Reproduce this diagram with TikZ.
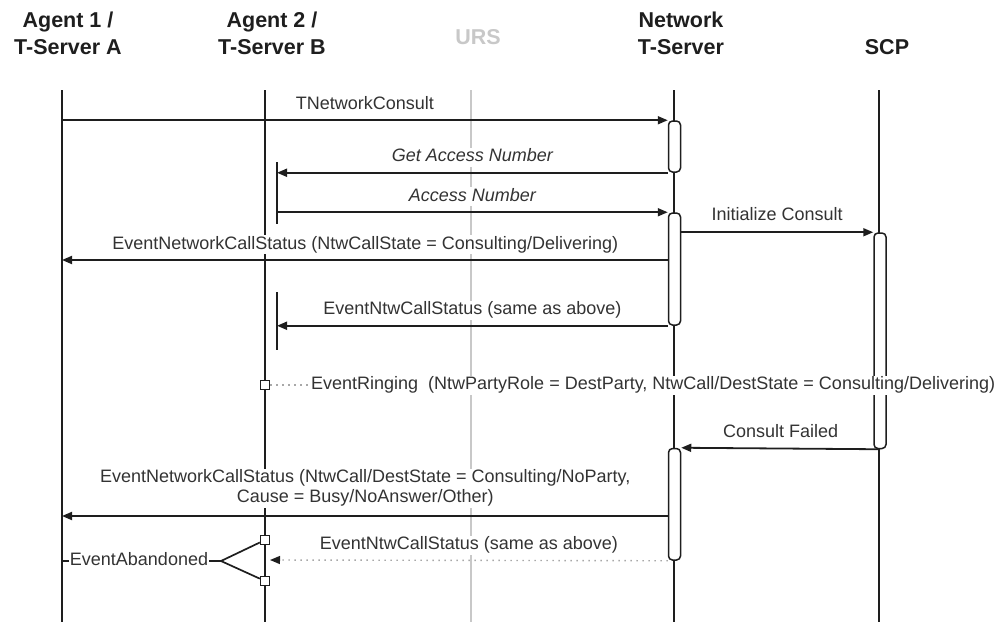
\documentclass[tikz,border=0pt]{standalone}
\usepackage{fontspec}
\setmainfont{Liberation Sans}
\usetikzlibrary{arrows.meta}
\definecolor{ink}{HTML}{1E1E1E}
\definecolor{txt}{HTML}{333333}
\definecolor{ursgray}{HTML}{C8C8C8}
\definecolor{dotgray}{HTML}{A8A8A8}
\begin{document}
\begin{tikzpicture}[x=1pt,y=-1pt,
  life/.style={draw=ink, line width=2.5pt},
  urs/.style={draw=ursgray, line width=1.6pt},
  barline/.style={draw=ink, line width=2.6pt},
  tipstyle/.style={-{Triangle[length=10pt,width=8pt,color=ink]}},
  msg/.style={draw=ink, line width=1.8pt, tipstyle},
  dotmsg/.style={draw=dotgray, line width=1.4pt, dash pattern=on 1.5pt off 4.5pt, tipstyle},
  plain/.style={draw=ink, line width=1.7pt},
  dotline/.style={draw=dotgray, line width=1.4pt, dash pattern=on 1.5pt off 4.5pt},
  act/.style={draw=ink, fill=white, line width=1.5pt, rounded corners=4pt, minimum width=12pt, inner sep=0pt},
  lbl/.style={fill=white, text=txt, font=\fontsize{18}{20}\selectfont, inner sep=1pt, text height=13pt, text depth=4pt},
  lbli/.style={lbl, font=\fontsize{18}{20}\selectfont\itshape},
  lbltwo/.style={fill=white, text=txt, font=\fontsize{18}{20}\selectfont, inner sep=1pt, align=center},
  hdr/.style={text=ink, font=\bfseries\fontsize{21.5}{27}\selectfont, align=center},
  sq/.style={draw=ink, fill=white, line width=1.3pt, minimum size=9pt, inner sep=0pt},
]
\useasboundingbox (0,0) rectangle (1005,622);

% headers
\node[hdr] (h1) at (68,33.5) {Agent 1 /\\T-Server A};
\node[hdr] (h2) at (272,33.5) {Agent 2 /\\T-Server B};
\node[hdr, text=ursgray] (h3) at (478,37) {URS};
\node[hdr] (h4) at (681,33.5) {Network\\T-Server};
\node[hdr] (h5) at (887,47) {SCP};

% lifelines
\coordinate (a1t) at (62,90);  \coordinate (a1b) at (62,622);
\coordinate (a2t) at (265,90); \coordinate (a2b) at (265,622);
\coordinate (urt) at (471,90); \coordinate (urb) at (471,622);
\coordinate (nt) at (674,90);  \coordinate (nb) at (674,622);
\coordinate (st) at (879,90);  \coordinate (sb) at (879,622);
\draw[life] (a1t) -- (a1b);
\draw[life] (a2t) -- (a2b);
\draw[urs] (urt) -- (urb);
\draw[life] (nt) -- (nb);
\draw[life] (st) -- (sb);

% activation bars
\node[act, minimum height=51pt] (na1) at (674.5,146.5) {};
\node[act, minimum height=112pt] (na2) at (674.5,269) {};
\node[act, minimum height=111.5pt] (na3) at (674.5,504.25) {};
\node[act, minimum height=215.5pt] (sa) at (880,340.75) {};

% short bars on agent 2
\coordinate (b1t) at (277,162); \coordinate (b1b) at (277,224);
\coordinate (b2t) at (277,292); \coordinate (b2b) at (277,350);
\draw[barline] (b1t) -- (b1b);
\draw[barline] (b2t) -- (b2b);

% messages
\draw[msg] (a1t |- na1.north) -- node[lbl, above=5pt] (l1) {TNetworkConsult} (na1.north west);
\draw[msg] (na1.south west) -- node[lbli, above=5pt] (l2) {Get Access Number} (b1t |- na1.south);
\draw[msg] (b1t |- na2.north) -- node[lbli, above=5pt] (l3) {Access Number} (na2.north west);
\draw[msg] (na2.east |- sa.north) -- node[lbl, above=6pt] (l4) {Initialize Consult} (sa.north west);
\coordinate (m5) at (668.5,260);
\draw[msg] (m5) -- node[lbl, above=5pt] (l5) {EventNetworkCallStatus (NtwCallState = Consulting/Delivering)} (a1t |- m5);
\draw[msg] (na2.south west) -- node[lbl, above=5pt] (l6) {EventNtwCallStatus (same as above)} (b2t |- na2.south);

% EventRinging
\node[sq] (sq1) at (265,385) {};
\node[lbl, anchor=west] (ring) at (310,385) {EventRinging\ \ (NtwPartyRole = DestParty, NtwCall/DestState = Consulting/Delivering)};
\draw[dotline] (sq1) -- (ring);

\draw[msg] (sa.south) -- node[lbl, above=5pt] (l7) {Consult Failed} (na3.north east);

\coordinate (m9) at (668.5,516);
\draw[msg] (m9) -- node[lbltwo, above=7.5pt] (l8) {EventNetworkCallStatus (NtwCall/DestState = Consulting/NoParty,\\Cause = Busy/NoAnswer/Other)} (a1t |- m9);

\coordinate (m10) at (270,560);
\draw[dotmsg] (na3.south west) -- node[lbl, above=5pt] (l9) {EventNtwCallStatus (same as above)} (m10);

% EventAbandoned
\node[sq] (sq2) at (265,540) {};
\node[sq] (sq3) at (265,581) {};
\coordinate (fork) at (221,561);
\node[lbl, inner sep=0.5pt] (ab) at (139,561) {EventAbandoned};
\draw[plain] (sq2) -- (fork) -- (sq3);
\draw[plain] (fork) -- (ab.east);
\draw[plain] (ab.west) -- (a1t |- ab.west);
\end{tikzpicture}
\end{document}
